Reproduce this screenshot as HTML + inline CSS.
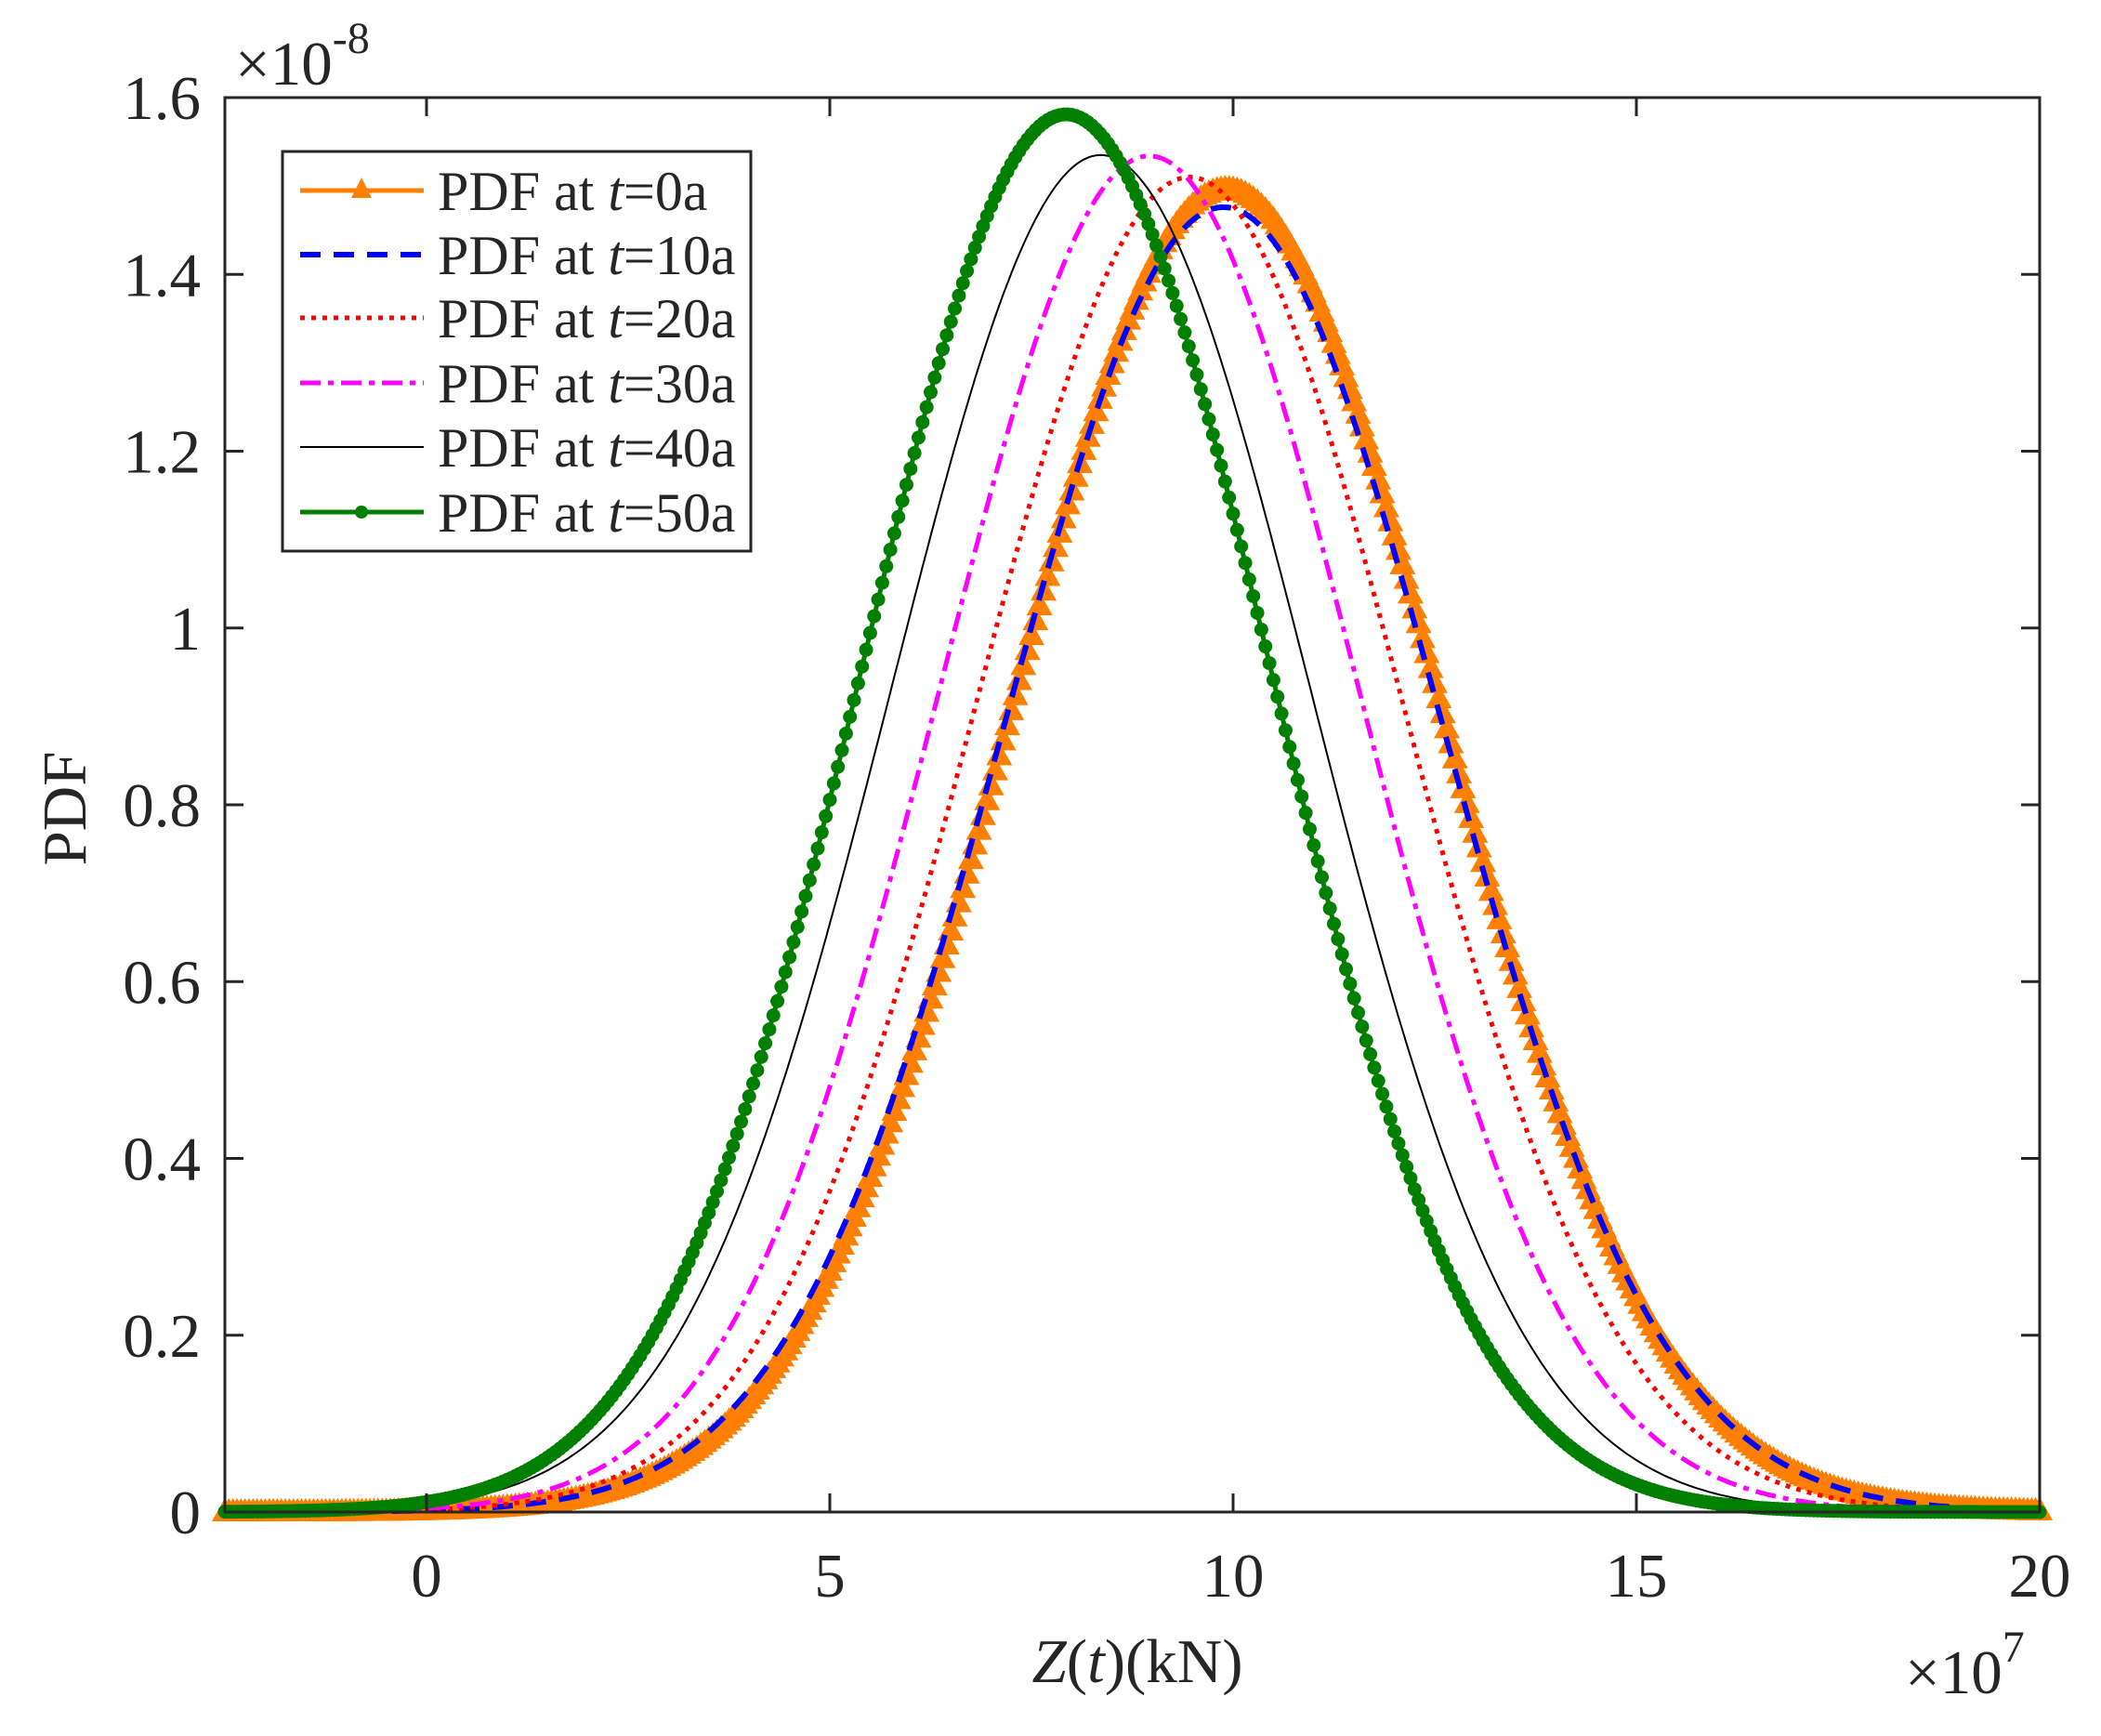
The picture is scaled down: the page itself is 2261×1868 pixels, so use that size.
<!DOCTYPE html>
<html><head><meta charset="utf-8"><style>
html,body{margin:0;padding:0;background:#fff;}
svg{display:block;font-family:"Liberation Serif",serif;}
</style></head><body>
<svg id="s" width="2261" height="1868" viewBox="0 0 2261 1868" xmlns="http://www.w3.org/2000/svg">
<rect width="2261" height="1868" fill="#fff"/>
<g id="curves"></g>
<g id="axes" stroke="#262626" stroke-width="3" fill="none">
<rect x="242" y="105" width="1953" height="1522"/>
</g>
<g id="ticks" stroke="#262626" stroke-width="3"></g>
<g id="labels" fill="#262626" font-size="67"></g>
<text x="253" y="91" font-size="67" fill="#262626">×10<tspan dy="-34" font-size="48">-8</tspan></text>
<text x="2050" y="1822" font-size="67" fill="#262626">×10<tspan dy="-34" font-size="48">7</tspan></text>
<text x="1224" y="1810" font-size="67" fill="#262626" text-anchor="middle"><tspan font-style="italic">Z</tspan>(<tspan font-style="italic">t</tspan>)(kN)</text>
<text transform="translate(92,870) rotate(-90)" font-size="67" fill="#262626" text-anchor="middle">PDF</text>
<g id="legend"></g>
</svg>
<script>
var NS="http://www.w3.org/2000/svg";
var L=242,R=2195,T=105,B=1627;
function X(v){return L+(v+2.5)*(R-L)/22.5;}
function Y(v){return B-v*(B-T)/1.6;}
function el(p,n,a,t){var e=document.createElementNS(NS,n);for(var k in a)e.setAttribute(k,a[k]);if(t!=null)e.textContent=t;p.appendChild(e);return e;}
var tk=document.getElementById('ticks'),lb=document.getElementById('labels');
[0,5,10,15,20].forEach(function(v){var x=X(v);el(tk,'line',{x1:x,y1:B,x2:x,y2:B-20});el(tk,'line',{x1:x,y1:T,x2:x,y2:T+20});
el(lb,'text',{x:x,y:1718,'text-anchor':'middle'},String(v));});
[0,0.2,0.4,0.6,0.8,1,1.2,1.4,1.6].forEach(function(v){var y=Y(v);el(tk,'line',{x1:L,y1:y,x2:L+20,y2:y});el(tk,'line',{x1:R,y1:y,x2:R-20,y2:y});
el(lb,'text',{x:216,y:y+23,'text-anchor':'end'},String(v));});
var series=[
 {m:9.92,p:1.497,c:'#ff7f00',w:5,d:'',mk:'tri'},
 {m:9.88,p:1.476,c:'#0000ff',w:6,d:'22,14'},
 {m:9.46,p:1.51,c:'#ff0000',w:5,d:'5,7'},
 {m:8.96,p:1.534,c:'#ff00ff',w:5,d:'22,8,6,8'},
 {m:8.36,p:1.535,c:'#000000',w:2,d:''},
 {m:7.93,p:1.581,c:'#007f00',w:5,d:'',mk:'dot'}];
var cg=document.getElementById('curves');
series.forEach(function(s){s.sig=1/(s.p*Math.sqrt(2*Math.PI)*0.1);});
series.forEach(function(s){
 var pts=[];for(var v=-2.5;v<=20.001;v+=0.05){var y=s.p*Math.exp(-Math.pow(v-s.m,2)/(2*s.sig*s.sig));pts.push([X(v),Y(y)]);}
 s.pts=pts;});
function drawLine(s){var a={points:s.pts.map(function(p){return p[0].toFixed(1)+','+p[1].toFixed(1)}).join(' '),fill:'none',stroke:s.c,'stroke-width':s.w};if(s.d)a['stroke-dasharray']=s.d;el(cg,'polyline',a);}
var o=series[0];
o.pts.forEach(function(p){el(cg,'polygon',{points:(p[0]-14)+','+(p[1]+10)+' '+(p[0]+14)+','+(p[1]+10)+' '+p[0]+','+(p[1]-15),fill:o.c});});
drawLine(o);
for(var i=1;i<5;i++)drawLine(series[i]);
var g=series[5];drawLine(g);
g.pts.forEach(function(p){el(cg,'circle',{cx:p[0],cy:p[1],r:7.5,fill:g.c});});
var lg=document.getElementById('legend');
el(lg,'rect',{x:304,y:163,width:504,height:430,fill:'#fff',stroke:'#262626','stroke-width':3});
var names=['0','10','20','30','40','50'],ys=[205,274,342,412,481,551];
series.forEach(function(s,i){var y=ys[i];var a={x1:323,y1:y,x2:456,y2:y,stroke:s.c,'stroke-width':s.w};if(s.d)a['stroke-dasharray']=s.d;el(lg,'line',a);
 if(s.mk=='tri')el(lg,'polygon',{points:'378,'+(y+8)+' 400,'+(y+8)+' 389,'+(y-14),fill:s.c});
 if(s.mk=='dot')el(lg,'circle',{cx:389,cy:y,r:7,fill:s.c});
 var t=el(lg,'text',{x:471,y:y+21,'font-size':60,fill:'#262626'},null);
 t.innerHTML='PDF at <tspan font-style="italic">t</tspan>='+names[i]+'a';});
</script>
</body></html>
